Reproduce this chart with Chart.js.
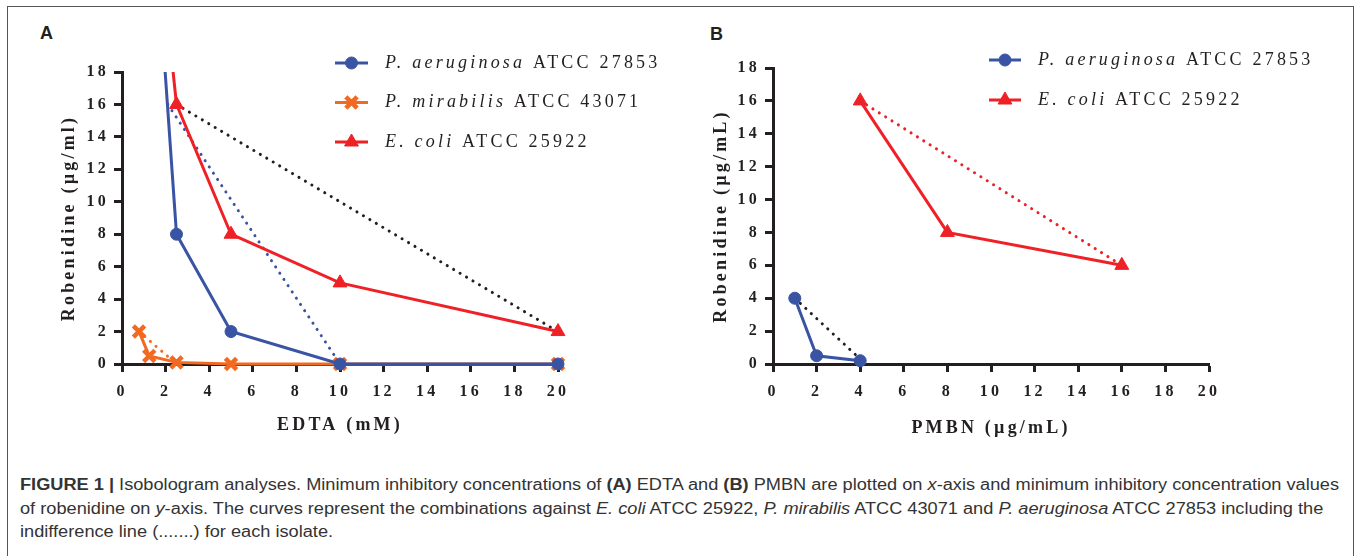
<!DOCTYPE html>
<html>
<head>
<meta charset="utf-8">
<title>Isobologram</title>
<script src="https://cdn.jsdelivr.net/npm/chart.js@4.4.1/dist/chart.umd.min.js"></script>
<style>
  body { margin: 0; background: #fff; width: 1357px; height: 556px; overflow: hidden; position: relative; }
  #frame { position: absolute; left: 7px; top: 6px; width: 1345px; height: 600px; border: 1px solid #555; }
  .panel { position: absolute; font: bold 18px "Liberation Sans", Arial, sans-serif; color: #231f20; }
  .chartBox { position: absolute; top: 0; }
  #caption { position: absolute; left: 20px; top: 473px; font-family: "Liberation Sans", Arial, sans-serif;
             font-size: 16px; color: #333; line-height: 23.5px; white-space: nowrap; transform-origin: 0 0; }
</style>
</head>
<body>
<div id="frame"></div>
<div class="panel" style="left:40px;top:23px">A</div>
<div class="panel" style="left:710px;top:24px">B</div>
<div class="chartBox" style="left:0;width:700px;height:460px"><canvas id="edtaChart"></canvas></div>
<div class="chartBox" style="left:680px;width:677px;height:460px"><canvas id="pmbnChart"></canvas></div>
<div id="caption">
  <div><b>FIGURE 1 |</b> Isobologram analyses. Minimum inhibitory concentrations of <b>(A)</b> EDTA and <b>(B)</b> PMBN are plotted on <i>x</i>-axis and minimum inhibitory concentration values</div>
  <div>of robenidine on <i>y</i>-axis. The curves represent the combinations against <i>E. coli</i> ATCC 25922, <i>P. mirabilis</i> ATCC 43071 and <i>P. aeruginosa</i> ATCC 27853 including the</div>
  <div>indifference line (.......) for each isolate.</div>
</div>
<script>
// isolates
var species = ["P. aeruginosa", "P. mirabilis", "E. coli"];
var strains = ["ATCC 27853", "ATCC 43071", "ATCC 25922"];

// A: EDTA (mM) vs robenidine (ug/ml)
var edtaPaerX = [1.25, 2.5, 5, 10, 20];
var edtaPaerY = [32, 8, 2, 0, 0];
var edtaPmirX = [0.78, 1.25, 2.5, 5, 10, 20];
var edtaPmirY = [2, 0.5, 0.1, 0, 0, 0];
var edtaEcolX = [1.25, 2.5, 5, 10, 20];
var edtaEcolY = [32, 16, 8, 5, 2];
// A: indifference lines
var edtaPaerIndX = [2.1, 10];
var edtaPaerIndY = [16, 0];
var edtaPmirIndX = [0.78, 2.5];
var edtaPmirIndY = [2, 0];
var edtaEcolIndX = [2.5, 20];
var edtaEcolIndY = [16, 2];

// B: PMBN (ug/mL) vs robenidine (ug/mL)
var pmbnPaerX = [1, 2, 4];
var pmbnPaerY = [4, 0.5, 0.2];
var pmbnEcolX = [4, 8, 16];
var pmbnEcolY = [16, 8, 6];
// B: indifference lines
var pmbnPaerIndX = [1, 4];
var pmbnPaerIndY = [4, 0.3];
var pmbnEcolIndX = [4, 16];
var pmbnEcolIndY = [16, 6];

var xTickVals = [0, 2, 4, 6, 8, 10, 12, 14, 16, 18, 20];
var yTickVals = [0, 2, 4, 6, 8, 10, 12, 14, 16, 18];

var blue = "#3a54a4", orange = "#f26a21", red = "#ee2127", ink = "#231f20";
var serif = "'Liberation Serif', 'Times New Roman', serif";

function pts(xs, ys) {
  return xs.map(function (x, i) { return { x: x, y: ys[i] }; });
}

function solid(xs, ys, color, style, r) {
  return {
    data: pts(xs, ys),
    showLine: true,
    borderColor: color,
    borderWidth: 3,
    pointStyle: style,
    pointRadius: r,
    pointHoverRadius: r,
    pointBackgroundColor: color,
    pointBorderColor: color,
    pointBorderWidth: style === "crossRot" ? 4.5 : 1,
    clip: { left: false, top: 0, right: false, bottom: false }
  };
}

function dotted(xs, ys, color) {
  return {
    data: pts(xs, ys),
    showLine: true,
    borderColor: color,
    borderWidth: 3,
    borderDash: [0.1, 7.4],
    borderCapStyle: "round",
    pointRadius: 0,
    clip: false
  };
}

function axis(title, vals, max, fitSize, titlePad, isX) {
  return {
    type: "linear",
    min: 0,
    max: max,
    afterBuildTicks: function (s) { s.ticks = vals.map(function (v) { return { value: v }; }); },
    afterFit: function (s) { if (isX) s.height = fitSize; else s.width = fitSize; },
    border: { display: true, width: 3, color: ink },
    grid: { display: true, drawOnChartArea: false, drawTicks: true, tickLength: 8, tickWidth: 3, tickColor: ink },
    ticks: { color: ink, padding: isX ? 10 : 5, font: { family: serif, size: 16, weight: "bold" }, maxRotation: 0 },
    title: {
      display: true, text: title, color: ink,
      font: { family: serif, size: 18, weight: "bold" },
      padding: isX ? { bottom: titlePad } : { top: titlePad }
    }
  };
}

// spaced lettering for all canvas text
var spacing = {
  id: "spacing",
  beforeDraw: function (chart) { chart.ctx.letterSpacing = "3.2px"; }
};

// key drawn inside the frame, one row per isolate
var key = {
  id: "key",
  afterDraw: function (chart, args, o) {
    var ctx = chart.ctx;
    o.rows.forEach(function (row, i) {
      var ds = chart.data.datasets[row.ds];
      var y = o.y + i * o.gap;
      var mid = o.x + o.len / 2;
      ctx.save();
      ctx.letterSpacing = "0px";
      ctx.strokeStyle = ds.borderColor;
      ctx.lineWidth = ds.borderWidth;
      ctx.beginPath();
      ctx.moveTo(o.x, y);
      ctx.lineTo(o.x + o.len, y);
      ctx.stroke();
      ctx.fillStyle = ds.pointBackgroundColor;
      ctx.lineWidth = ds.pointBorderWidth;
      Chart.helpers.drawPoint(ctx, { pointStyle: ds.pointStyle, radius: ds.pointRadius,
        borderWidth: ds.pointBorderWidth, rotation: 0 }, mid, y);
      ctx.letterSpacing = "3.2px";
      ctx.fillStyle = ink;
      ctx.textBaseline = "middle";
      ctx.textAlign = "left";
      var tx = o.x + o.text;
      ctx.font = "italic 18px " + serif;
      ctx.fillText(species[row.sp], tx, y);
      tx += ctx.measureText(species[row.sp] + " ").width;
      ctx.font = "18px " + serif;
      ctx.fillText(strains[row.sp], tx, y);
      ctx.restore();
    });
  }
};

new Chart(document.getElementById("edtaChart"), {
  type: "scatter",
  data: {
    datasets: [
      solid(edtaEcolX, edtaEcolY, red, "triangle", 8),
      solid(edtaPaerX, edtaPaerY, blue, "circle", 6),
      solid(edtaPmirX, edtaPmirY, orange, "crossRot", 8),
      dotted(edtaEcolIndX, edtaEcolIndY, ink),
      dotted(edtaPaerIndX, edtaPaerIndY, blue),
      dotted(edtaPmirIndX, edtaPmirIndY, orange)
    ]
  },
  options: {
    responsive: true,
    maintainAspectRatio: false,
    animation: false,
    layout: { padding: { left: 0, top: 72, right: 142, bottom: 0 } },
    scales: {
      x: axis("EDTA (mM)", xTickVals, 20, 96, 24, true),
      y: axis("Robenidine (\u00b5g/ml)", yTickVals, 18, 122, 59, false)
    },
    plugins: {
      legend: { display: false },
      tooltip: { enabled: false },
      key: { x: 335, y: 63, gap: 39.5, len: 33, text: 50, rows: [{ ds: 1, sp: 0 }, { ds: 2, sp: 1 }, { ds: 0, sp: 2 }] }
    }
  },
  plugins: [spacing, key]
});

new Chart(document.getElementById("pmbnChart"), {
  type: "scatter",
  data: {
    datasets: [
      solid(pmbnEcolX, pmbnEcolY, red, "triangle", 8),
      solid(pmbnPaerX, pmbnPaerY, blue, "circle", 6),
      dotted(pmbnEcolIndX, pmbnEcolIndY, red),
      dotted(pmbnPaerIndX, pmbnPaerIndY, ink)
    ]
  },
  options: {
    responsive: true,
    maintainAspectRatio: false,
    animation: false,
    layout: { padding: { left: 0, top: 68, right: 148, bottom: 0 } },
    scales: {
      x: axis("PMBN (\u00b5g/mL)", xTickVals, 20, 96, 21, true),
      y: axis("Robenidine (\u00b5g/mL)", yTickVals, 18, 93, 31, false)
    },
    plugins: {
      legend: { display: false },
      tooltip: { enabled: false },
      key: { x: 309, y: 60, gap: 40, len: 32, text: 49, rows: [{ ds: 1, sp: 0 }, { ds: 0, sp: 2 }] }
    }
  },
  plugins: [spacing, key]
});

// stretch the caption so its first line runs to the right margin
var cap = document.getElementById("caption");
var firstLine = cap.children[0].getBoundingClientRect().width;
cap.style.transform = "scaleX(" + (1319 / firstLine) + ")";
</script>
</body>
</html>
